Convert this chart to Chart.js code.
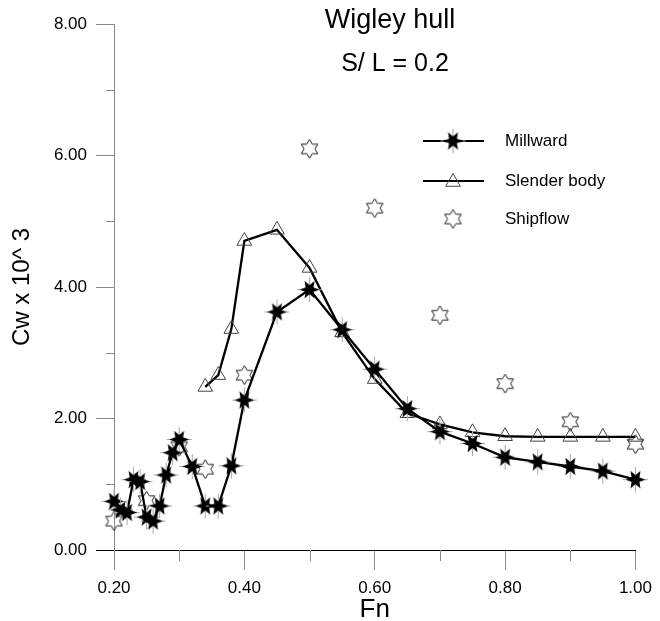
<!DOCTYPE html>
<html>
<head>
<meta charset="utf-8">
<title>Wigley hull</title>
<script src="https://cdn.jsdelivr.net/npm/chart.js@4.4.0/dist/chart.umd.min.js"></script>
<style>
  html, body { margin: 0; padding: 0; background: #fff; }
  canvas { display: block; }
</style>
</head>
<body>
<canvas id="c" width="660" height="621"></canvas>
<script>
// Wave resistance coefficient Cw (x10^3) versus Froude number, Wigley hull, S/L = 0.2
const fnMillward = [0.20, 0.21, 0.22, 0.23, 0.24, 0.25, 0.26, 0.27, 0.28, 0.29, 0.30, 0.32, 0.34, 0.36,
                    0.38, 0.40, 0.45, 0.50, 0.55, 0.60, 0.65, 0.70, 0.75, 0.80, 0.85, 0.90, 0.95, 1.00];
const cwMillward = [0.74, 0.61, 0.57, 1.07, 1.04, 0.50, 0.44, 0.67, 1.14, 1.48, 1.68, 1.27, 0.67, 0.67,
                    1.28, 2.28, 3.62, 3.96, 3.35, 2.75, 2.15, 1.80, 1.62, 1.41, 1.34, 1.27, 1.20, 1.07];

const fnSlender = [0.34, 0.36, 0.38, 0.40, 0.45, 0.50, 0.55, 0.60, 0.65, 0.70, 0.75, 0.80, 0.85, 0.90, 0.95, 1.00];
const cwSlender = [2.48, 2.66, 3.36, 4.70, 4.87, 4.29, 3.31, 2.60, 2.08, 1.91, 1.79, 1.73, 1.72, 1.72, 1.72, 1.72];

const fnShipflow = [0.20, 0.25, 0.30, 0.34, 0.40, 0.50, 0.60, 0.70, 0.80, 0.90, 1.00];
const cwShipflow = [0.44, 0.75, 1.57, 1.23, 2.66, 6.10, 5.20, 3.57, 2.53, 1.95, 1.61];

const xTicks = [0.2, 0.4, 0.6, 0.8, 1.0];
const xMinorTicks = [0.3, 0.5, 0.7, 0.9];
const yTicks = [0, 2, 4, 6, 8];
const yMinorTicks = [1, 3, 5, 7];

const seriesNames = ['Millward', 'Slender body', 'Shipflow'];
const titleText = 'Wigley hull';
const subtitleText = 'S/ L = 0.2';

const FONT = "'Liberation Sans', Arial, Helvetica, sans-serif";
Chart.defaults.font.family = FONT;
Chart.defaults.color = '#000';

function toPoints(xs, ys) {
  return xs.map((x, i) => ({ x: x, y: ys[i] }));
}

// Filled six-point star with thin grey cross hairs
function makeMillwardMarker() {
  const s = 27, m = 13.5;
  const c = document.createElement('canvas');
  c.width = c.height = s;
  const g = c.getContext('2d');
  g.strokeStyle = '#a8a8a8';
  g.lineWidth = 1;
  g.beginPath();
  g.moveTo(m, 1); g.lineTo(m, s - 1);
  g.moveTo(1, m); g.lineTo(s - 1, m);
  g.stroke();
  g.fillStyle = '#000';
  g.beginPath();
  for (let k = 0; k < 12; k++) {
    const r = k % 2 ? 4.5 : 10;
    const a = k * Math.PI / 6;
    const px = m + r * Math.cos(a), py = m + r * Math.sin(a);
    if (k === 0) g.moveTo(px, py); else g.lineTo(px, py);
  }
  g.closePath();
  g.fill();
  return c;
}

// Hollow hexagram outline
function makeShipflowMarker() {
  const s = 23, m = 11.5;
  const c = document.createElement('canvas');
  c.width = c.height = s;
  const g = c.getContext('2d');
  g.strokeStyle = '#1e1e1e';
  g.lineWidth = 1;
  const ro = 9.5, ri = ro / Math.sqrt(3);
  g.beginPath();
  for (let k = 0; k < 12; k++) {
    const r = k % 2 ? ri : ro;
    const a = -Math.PI / 2 + k * Math.PI / 6;
    const px = m + r * Math.cos(a), py = m + r * Math.sin(a);
    if (k === 0) g.moveTo(px, py); else g.lineTo(px, py);
  }
  g.closePath();
  g.stroke();
  return c;
}

const millwardMarker = makeMillwardMarker();
const shipflowMarker = makeShipflowMarker();

function drawTriangle(ctx, x, y, r) {
  ctx.beginPath();
  let a = 0;
  ctx.moveTo(x + Math.sin(a) * r, y - Math.cos(a) * r);
  a += 2 * Math.PI / 3;
  ctx.lineTo(x + Math.sin(a) * r, y - Math.cos(a) * r);
  a += 2 * Math.PI / 3;
  ctx.lineTo(x + Math.sin(a) * r, y - Math.cos(a) * r);
  ctx.closePath();
  ctx.stroke();
}

// Minor ticks on both axes
const minorTicksPlugin = {
  id: 'minorTicks',
  afterDraw(chart) {
    const { ctx, scales: { x, y }, chartArea } = chart;
    ctx.save();
    ctx.strokeStyle = '#8a8a8a';
    ctx.lineWidth = 1;
    ctx.beginPath();
    xMinorTicks.forEach(v => {
      const px = Math.round(x.getPixelForValue(v)) + 0.5;
      ctx.moveTo(px, chartArea.bottom);
      ctx.lineTo(px, chartArea.bottom + 11);
    });
    yMinorTicks.forEach(v => {
      const py = Math.round(y.getPixelForValue(v)) + 0.5;
      ctx.moveTo(chartArea.left - 8, py);
      ctx.lineTo(chartArea.left, py);
    });
    ctx.stroke();
    ctx.restore();
  }
};

// Title lines and the key with line samples
const annotationPlugin = {
  id: 'titleAndKey',
  afterDraw(chart) {
    const ctx = chart.ctx;
    ctx.save();
    ctx.fillStyle = '#000';
    ctx.textAlign = 'center';
    ctx.textBaseline = 'middle';
    ctx.font = '27px ' + FONT;
    ctx.fillText(titleText, 390, 21);
    ctx.font = '25px ' + FONT;
    ctx.fillText(subtitleText, 395, 64);

    const x0 = 423, x1 = 484, xm = 453, xt = 505;
    const rows = [141, 181, 219];
    ctx.strokeStyle = '#000';
    ctx.lineWidth = 2.2;
    ctx.beginPath();
    ctx.moveTo(x0, rows[0]); ctx.lineTo(x1, rows[0]);
    ctx.moveTo(x0, rows[1]); ctx.lineTo(x1, rows[1]);
    ctx.stroke();
    ctx.drawImage(millwardMarker, xm - millwardMarker.width / 2, rows[0] - millwardMarker.height / 2);
    ctx.strokeStyle = '#444';
    ctx.lineWidth = 1;
    drawTriangle(ctx, xm, rows[1] + 1, 8.5);
    ctx.drawImage(shipflowMarker, xm - shipflowMarker.width / 2, rows[2] - shipflowMarker.height / 2);

    ctx.fillStyle = '#000';
    ctx.textAlign = 'left';
    ctx.font = '17px ' + FONT;
    seriesNames.forEach((name, i) => ctx.fillText(name, xt, rows[i]));
    ctx.restore();
  }
};

new Chart(document.getElementById('c'), {
  type: 'scatter',
  data: {
    datasets: [
      {
        label: seriesNames[0],
        data: toPoints(fnMillward, cwMillward),
        showLine: true,
        tension: 0,
        borderColor: '#000',
        borderWidth: 2.3,
        pointStyle: millwardMarker,
        pointRadius: 10,
        clip: false
      },
      {
        label: seriesNames[1],
        data: toPoints(fnSlender, cwSlender),
        showLine: true,
        tension: 0,
        borderColor: '#000',
        borderWidth: 2.3,
        pointStyle: 'triangle',
        pointRadius: 8.5,
        pointBorderWidth: 1,
        pointBorderColor: '#444',
        pointBackgroundColor: 'rgba(0,0,0,0)',
        clip: false
      },
      {
        label: seriesNames[2],
        data: toPoints(fnShipflow, cwShipflow),
        showLine: false,
        pointStyle: shipflowMarker,
        pointRadius: 10,
        clip: false
      }
    ]
  },
  options: {
    responsive: false,
    animation: false,
    events: [],
    devicePixelRatio: 1,
    layout: { padding: { top: 24, right: 17, left: 0, bottom: 0 } },
    plugins: {
      legend: { display: false },
      title: { display: false },
      tooltip: { enabled: false }
    },
    scales: {
      x: {
        type: 'linear',
        position: 'bottom',
        min: 0.2,
        max: 1.0,
        afterBuildTicks: s => { s.ticks = xTicks.map(v => ({ value: v })); },
        afterFit: s => { s.height = 71; },
        ticks: {
          font: { size: 17 },
          color: '#000',
          padding: 8,
          maxRotation: 0,
          autoSkip: false,
          callback: v => Number(v).toFixed(2)
        },
        grid: {
          drawOnChartArea: false,
          tickLength: 20,
          tickColor: '#8a8a8a',
          tickWidth: 1
        },
        border: { display: true, color: '#000', width: 1 },
        title: {
          display: true,
          text: 'Fn',
          color: '#000',
          font: { size: 26, lineHeight: 1 },
          padding: { top: 0, bottom: -2 }
        }
      },
      y: {
        type: 'linear',
        min: 0,
        max: 8,
        afterBuildTicks: s => { s.ticks = yTicks.map(v => ({ value: v })); },
        afterFit: s => { s.width = 114; },
        ticks: {
          font: { size: 17 },
          color: '#000',
          padding: 9,
          callback: v => Number(v).toFixed(2)
        },
        grid: {
          drawOnChartArea: false,
          tickLength: 18,
          tickColor: c => (c.tick && c.tick.value === 0 ? '#000' : '#8a8a8a'),
          tickWidth: 1
        },
        border: { display: true, color: '#8a8a8a', width: 1 },
        title: {
          display: true,
          text: 'Cw x 10^ 3',
          color: '#000',
          font: { size: 24, lineHeight: 1 },
          padding: { top: 10, bottom: 0 }
        }
      }
    }
  },
  plugins: [minorTicksPlugin, annotationPlugin]
});
</script>
</body>
</html>
